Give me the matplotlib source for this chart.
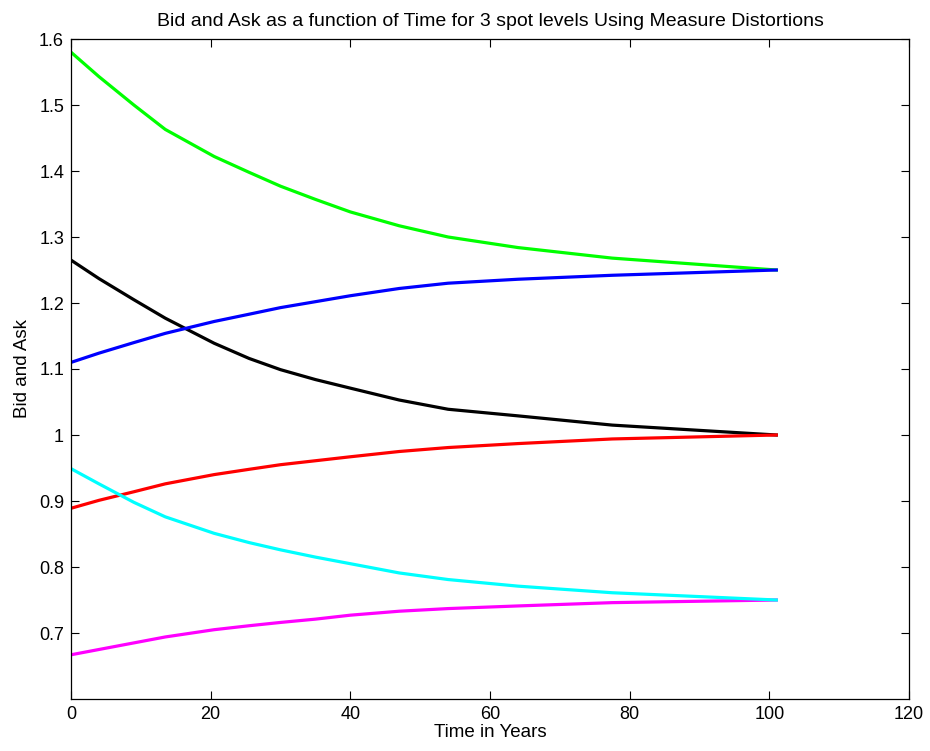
import matplotlib
matplotlib.use("Agg")
import matplotlib.pyplot as plt

t = [0, 4, 9, 13.5, 20.5, 25.5, 30, 35, 40, 47, 54, 64, 77.5, 101]
green = [1.580, 1.543, 1.500, 1.463, 1.422, 1.398, 1.377, 1.357, 1.338, 1.317, 1.300, 1.284, 1.268, 1.250]
black = [1.265, 1.237, 1.205, 1.177, 1.139, 1.116, 1.099, 1.084, 1.071, 1.053, 1.039, 1.029, 1.015, 1.000]
blue = [1.110, 1.124, 1.140, 1.154, 1.172, 1.183, 1.193, 1.202, 1.211, 1.222, 1.230, 1.236, 1.242, 1.250]
red = [0.889, 0.901, 0.914, 0.926, 0.940, 0.948, 0.955, 0.961, 0.967, 0.975, 0.981, 0.987, 0.994, 1.000]
magenta = [0.667, 0.675, 0.685, 0.694, 0.705, 0.711, 0.716, 0.721, 0.727, 0.733, 0.737, 0.741, 0.746, 0.750]
cyan = [0.949, 0.926, 0.898, 0.876, 0.851, 0.837, 0.826, 0.815, 0.805, 0.791, 0.781, 0.771, 0.761, 0.750]

xticks = [0, 20, 40, 60, 80, 100, 120]
yticks = [0.7, 0.8, 0.9, 1.0, 1.1, 1.2, 1.3, 1.4, 1.5, 1.6]
ytick_labels = ["0.7", "0.8", "0.9", "1", "1.1", "1.2", "1.3", "1.4", "1.5", "1.6"]

plt.rcParams['font.family'] = ['Liberation Sans', 'DejaVu Sans']

fig = plt.figure(figsize=(9.3, 7.51), dpi=100)
ax = fig.add_axes([71/930, 52/751, 838/930, 660/751])

lw = 2.3
ax.plot(t, green, color=(0, 1, 0), lw=lw)
ax.plot(t, black, color='black', lw=lw)
ax.plot(t, blue, color=(0, 0, 1), lw=lw)
ax.plot(t, red, color=(1, 0, 0), lw=lw)
ax.plot(t, magenta, color=(1, 0, 1), lw=lw)
ax.plot(t, cyan, color=(0, 1, 1), lw=lw)

ax.set_xlim(0, 120)
ax.set_ylim(0.6, 1.6)
ax.set_xticks(xticks)
ax.set_yticks(yticks)
ax.set_yticklabels(ytick_labels)
ax.tick_params(direction='in', length=6, width=0.8, top=True, right=True,
               labelsize=13, pad=5)
for s in ax.spines.values():
    s.set_linewidth(0.9)

ax.set_title("Bid and Ask as a function of Time for 3 spot levels Using Measure Distortions",
             fontsize=14, pad=9)
ax.set_xlabel("Time in Years", fontsize=13.5, labelpad=1)
ax.set_ylabel("Bid and Ask", fontsize=13.5, labelpad=6)

fig.savefig("out.png", dpi=100)
